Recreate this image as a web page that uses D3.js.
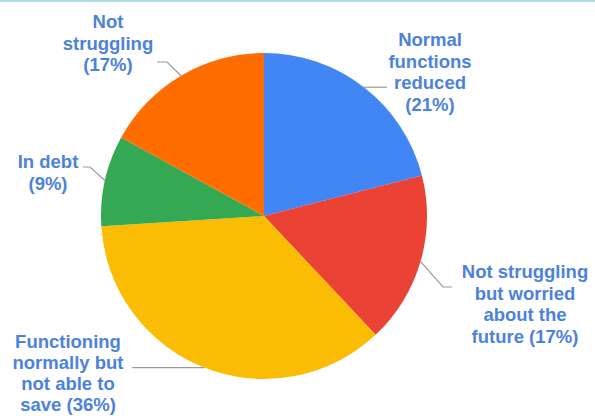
<!DOCTYPE html>
<html>
<head>
<meta charset="utf-8">
<script src="https://cdn.jsdelivr.net/npm/d3@7"></script>
<style>
  html, body { margin: 0; padding: 0; background: #fff; }
  svg { display: block; }
</style>
</head>
<body>
<svg id="chart" width="595" height="416"></svg>
<script>
// Household financial situation, share of respondents (%)
const categories = [
  "Normal functions reduced",
  "Not struggling but worried about the future",
  "Functioning normally but not able to save",
  "In debt",
  "Not struggling"
];
const values = [21, 17, 36, 9, 17];
const colors = ["#4285F4", "#EA4335", "#FBBC04", "#34A853", "#FF6D01"];
// Wrapped label text; {p} is replaced with the slice's percentage
const labelLines = [
  ["Normal", "functions", "reduced", "{p}"],
  ["Not struggling", "but worried", "about the", "future {p}"],
  ["Functioning", "normally but", "not able to", "save {p}"],
  ["In debt", "{p}"],
  ["Not", "struggling", "{p}"]
];

const W = 595, H = 416;
const cx = 264, cy = 216, R = 163;
const svg = d3.select("#chart");

// thin top rule
svg.append("rect").attr("x", 0).attr("y", 0).attr("width", W).attr("height", 2)
  .attr("fill", "#b5dde9");

const data = categories.map((c, i) => ({ name: c, value: values[i], color: colors[i], lines: labelLines[i] }));

const pie = d3.pie().value(d => d.value).sort(null);
const arcs = pie(data);
const arc = d3.arc().innerRadius(0).outerRadius(R);

const g = svg.append("g").attr("transform", `translate(${cx},${cy})`);
g.selectAll("path.slice").data(arcs).enter().append("path")
  .attr("class", "slice")
  .attr("d", arc)
  .attr("fill", d => d.data.color);

// label placement: text centre x, first baseline y, line spacing, leader elbow/end
const labelLayout = [
  { x: 430, y: 46, lh: 21.6, elbow: null, end: [387, 87] },
  { x: 525, y: 278, lh: 21.6, elbow: [443, 287], end: [452, 287] },
  { x: 68, y: 348, lh: 21, elbow: null, end: [132, 368] },
  { x: 48, y: 168, lh: 21.6, elbow: [90, 167], end: [83, 167] },
  { x: 108, y: 28, lh: 21.6, elbow: [167, 62], end: [157, 62] }
];
const fmt = v => `(${v}%)`;

const leader = d3.line();
arcs.forEach((a, i) => {
  const L = labelLayout[i];
  const mid = (a.startAngle + a.endAngle) / 2;
  const start = [cx + R * Math.sin(mid), cy - R * Math.cos(mid)];
  let pts;
  if (L.elbow) pts = [start, L.elbow, L.end];
  else pts = [start, [L.end[0], start[1]]];
  svg.append("path")
    .attr("d", leader(pts))
    .attr("fill", "none")
    .attr("stroke", "#9a9a9a")
    .attr("stroke-width", 1.2);

  const t = svg.append("text")
    .attr("x", L.x).attr("y", L.y)
    .attr("text-anchor", "middle")
    .attr("font-family", "'Liberation Sans', Arial, sans-serif")
    .attr("font-weight", "bold")
    .attr("font-size", 18.5)
    .attr("fill", "#4d82dc");
  a.data.lines.forEach((ln, j) => {
    t.append("tspan")
      .attr("x", L.x)
      .attr("y", L.y + j * L.lh)
      .text(ln.replace("{p}", fmt(a.data.value)));
  });
});
</script>
</body>
</html>
